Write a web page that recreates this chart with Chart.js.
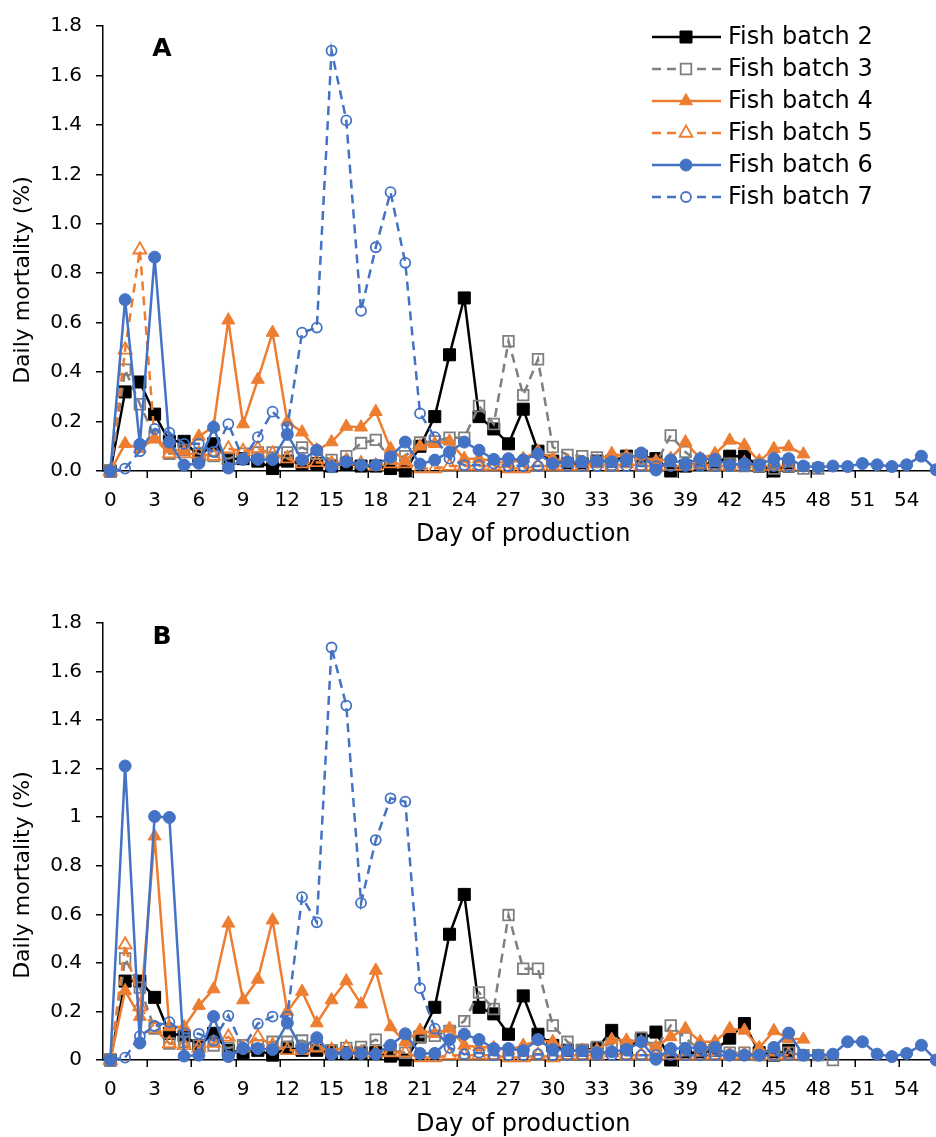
<!DOCTYPE html>
<html><head><meta charset="utf-8">
<script src="https://cdn.jsdelivr.net/npm/chart.js@4.4.1/dist/chart.umd.min.js"></script>
<style>
html,body{margin:0;padding:0;background:#fff;overflow:hidden;width:936px;height:1137px;position:relative;}
canvas{position:absolute;left:0;}
</style></head><body>
<canvas id="cA" width="953" height="560" style="top:0px"></canvas>
<canvas id="cB" width="953" height="560" style="top:597px"></canvas>
<script>
// ---------- DATA ----------
const seriesNames = ['Fish batch 2','Fish batch 3','Fish batch 4','Fish batch 5','Fish batch 6','Fish batch 7'];
const xTickValues = [0,3,6,9,12,15,18,21,24,27,30,33,36,39,42,45,48,51,54];
const yTickValues = [0,0.2,0.4,0.6,0.8,1.0,1.2,1.4,1.6,1.8];
const yTickLabelsA = ['0.0','0.2','0.4','0.6','0.8','1.0','1.2','1.4','1.6','1.8'];
const yTickLabelsB = ['0','0.2','0.4','0.6','0.8','1','1.2','1.4','1.6','1.8'];

// Panel A (values by day of production, starting at day 0)
const A_batch2 = [0,0.32,0.36,0.23,0.12,0.12,0.06,0.11,0.05,0.05,0.04,0.01,0.04,0.03,0.03,0.02,0.03,0.02,0.02,0.01,0.00,0.10,0.22,0.47,0.70,0.22,0.17,0.11,0.25,0.08,0.04,0.03,0.03,0.04,0.04,0.06,0.06,0.05,0.00,0.02,0.03,0.03,0.06,0.06,0.02,0.00,0.02];
const A_batch3 = [0,0.41,0.27,0.14,0.07,0.085,0.07,0.06,0.05,0.07,0.075,0.075,0.075,0.095,0.07,0.045,0.06,0.113,0.126,0.05,0.06,0.115,0.12,0.135,0.135,0.263,0.19,0.525,0.307,0.452,0.097,0.065,0.06,0.055,0.04,0.05,0.05,0.03,0.144,0.077,0.03,0.03,0.03,0.02,0.02,0.01,0.02,0.01,0.01];
const A_batch4 = [0,0.11,0.09,0.13,0.09,0.08,0.14,0.18,0.61,0.19,0.37,0.56,0.20,0.157,0.085,0.117,0.18,0.177,0.24,0.09,0.04,0.10,0.11,0.12,0.05,0.05,0.04,0.03,0.05,0.08,0.05,0.04,0.03,0.04,0.07,0.06,0.06,0.04,0.05,0.117,0.05,0.07,0.124,0.104,0.04,0.09,0.097,0.068];
const A_batch5 = [0,0.49,0.895,0.13,0.07,0.07,0.07,0.06,0.09,0.08,0.09,0.07,0.05,0.03,0.035,0.03,0.04,0.03,0.02,0.03,0.03,0.01,0.01,0.02,0.02,0.02,0.02,0.01,0.01,0.02,0.02,0.02,0.02,0.03,0.02,0.03,0.02,0.02,0.02,0.02,0.03,0.02,0.02,0.03,0.02,0.02,0.02];
const A_batch6 = [0,0.693,0.108,0.865,0.117,0.024,0.031,0.177,0.012,0.047,0.047,0.046,0.148,0.045,0.084,0.017,0.037,0.024,0.024,0.057,0.117,0.028,0.044,0.077,0.117,0.084,0.047,0.05,0.045,0.07,0.03,0.037,0.037,0.04,0.037,0.047,0.073,0.004,0.045,0.03,0.05,0.047,0.025,0.03,0.025,0.05,0.05,0.02,0.015,0.02,0.018,0.03,0.025,0.018,0.025,0.06,0.005];
const A_batch7 = [0,0.01,0.08,0.17,0.155,0.11,0.11,0.077,0.19,0.05,0.137,0.24,0.177,0.56,0.58,1.70,1.418,0.648,0.905,1.128,0.842,0.233,0.137,0.05,0.024,0.024,0.03,0.02,0.02,0.02,0.03,0.02,0.02,0.02,0.02,0.02,0.02,0.02,0.02,0.02,0.02,0.02,0.02,0.02,0.02,0.02,0.02];

// Panel B
const B_batch2 = [0,0.325,0.325,0.258,0.11,0.10,0.06,0.11,0.04,0.03,0.04,0.02,0.05,0.04,0.04,0.03,0.03,0.03,0.03,0.016,0.0,0.095,0.217,0.518,0.682,0.217,0.19,0.106,0.264,0.106,0.06,0.04,0.04,0.047,0.122,0.05,0.084,0.115,0.0,0.03,0.03,0.04,0.09,0.15,0.03,0.02,0.04];
const B_batch3 = [0,0.418,0.298,0.13,0.068,0.075,0.06,0.06,0.05,0.061,0.06,0.075,0.075,0.08,0.06,0.04,0.05,0.054,0.084,0.04,0.03,0.095,0.10,0.12,0.16,0.278,0.21,0.597,0.376,0.376,0.142,0.075,0.04,0.054,0.068,0.06,0.092,0.05,0.142,0.09,0.04,0.04,0.03,0.03,0.02,0.02,0.03,0.02,0.02,0.0];
const B_batch4 = [0,0.285,0.179,0.922,0.136,0.136,0.224,0.292,0.563,0.247,0.332,0.576,0.20,0.282,0.152,0.247,0.325,0.23,0.369,0.136,0.075,0.122,0.108,0.13,0.06,0.054,0.05,0.04,0.06,0.08,0.075,0.04,0.04,0.04,0.084,0.081,0.075,0.054,0.095,0.129,0.075,0.075,0.129,0.122,0.05,0.12,0.088,0.085];
const B_batch5 = [0,0.475,0.22,0.13,0.068,0.06,0.05,0.07,0.095,0.05,0.095,0.06,0.04,0.04,0.05,0.04,0.05,0.03,0.03,0.03,0.03,0.01,0.01,0.02,0.02,0.02,0.02,0.01,0.01,0.02,0.01,0.02,0.02,0.02,0.03,0.02,0.02,0.02,0.02,0.02,0.02,0.02,0.02,0.02,0.02,0.02,0.02];
const B_batch6 = [0,1.211,0.07,1.003,0.999,0.016,0.02,0.179,0.014,0.047,0.047,0.043,0.152,0.047,0.092,0.024,0.027,0.027,0.024,0.061,0.108,0.027,0.027,0.084,0.106,0.084,0.047,0.047,0.038,0.084,0.043,0.04,0.038,0.03,0.034,0.043,0.075,0.003,0.047,0.048,0.052,0.052,0.02,0.02,0.02,0.052,0.111,0.02,0.02,0.024,0.075,0.075,0.024,0.014,0.027,0.061,0.0];
const B_batch7 = [0,0.01,0.098,0.14,0.156,0.11,0.108,0.08,0.183,0.05,0.15,0.179,0.179,0.671,0.567,1.699,1.46,0.647,0.906,1.078,1.064,0.296,0.129,0.05,0.024,0.03,0.02,0.02,0.02,0.024,0.02,0.02,0.02,0.02,0.02,0.02,0.02,0.02,0.02,0.02,0.02,0.02,0.02,0.02,0.02,0.02,0.02];

// ---------- STYLES ----------
const BLACK='#000000', GRAY='#7F7F7F', ORANGE='#ED7D31', BLUE='#4472C4';
const styles = [
  {color:BLACK,  dash:[],    shape:'rect',     r:8.5, open:false, pbw:1},
  {color:GRAY,   dash:[9,6], shape:'rect',     r:7.5, open:true,  pbw:1.8},
  {color:ORANGE, dash:[],    shape:'triangle', r:7.5, open:false, pbw:1},
  {color:ORANGE, dash:[9,6], shape:'triangle', r:7.5, open:true,  pbw:1.8},
  {color:BLUE,   dash:[],    shape:'circle',   r:6,   open:false, pbw:1},
  {color:BLUE,   dash:[9,6], shape:'circle',   r:5,   open:true,  pbw:1.8}
];
const FONT = "'DejaVu Sans', Verdana, sans-serif";
Chart.defaults.font.family = FONT;
Chart.defaults.color = '#000';

function drawMarker(ctx, s, x, y, fillOpen) {
  ctx.save();
  ctx.setLineDash([]);
  ctx.lineWidth = s.pbw;
  ctx.strokeStyle = s.color;
  ctx.fillStyle = s.open ? fillOpen : s.color;
  ctx.beginPath();
  if (s.shape === 'rect') {
    const h = s.r * Math.SQRT1_2;
    ctx.rect(x - h, y - h, 2*h, 2*h);
  } else if (s.shape === 'triangle') {
    for (let k = 0; k < 3; k++) {
      const a = k * 2 * Math.PI / 3;
      const px = x + Math.sin(a) * s.r, py = y - Math.cos(a) * s.r;
      if (k === 0) ctx.moveTo(px, py); else ctx.lineTo(px, py);
    }
    ctx.closePath();
  } else {
    ctx.arc(x, y, s.r, 0, Math.PI * 2);
  }
  ctx.fill();
  ctx.stroke();
  ctx.restore();
}

const annot = {
  id: 'annot',
  afterDraw(chart, args, o) {
    const ctx = chart.ctx;
    const xs = chart.scales.x, area = chart.chartArea;
    // x tick marks (between category labels)
    ctx.save();
    ctx.strokeStyle = '#000'; ctx.lineWidth = 1.5;
    for (let v = 2.5; v < 56.6; v += 3) {
      const px = Math.round(xs.getPixelForValue(v)) + 0.25;
      ctx.beginPath(); ctx.moveTo(px, area.bottom); ctx.lineTo(px, area.bottom + 7); ctx.stroke();
    }
    // panel letter
    ctx.fillStyle = '#000'; ctx.textAlign = 'center'; ctx.textBaseline = 'middle';
    ctx.font = "bold 25px " + FONT;
    ctx.fillText(o.letter, o.letterX, o.letterY);
    // y title
    ctx.translate(o.yTitleX, o.yTitleY); ctx.rotate(-Math.PI/2);
    ctx.font = "22px " + FONT;
    ctx.fillText('Daily mortality (%)', 0, 0);
    ctx.restore();
    // legend
    if (o.legend) {
      ctx.save();
      ctx.font = "24px " + FONT;
      ctx.textAlign = 'left'; ctx.textBaseline = 'middle'; ctx.fillStyle = '#000';
      seriesNames.forEach((name, i) => {
        const s = styles[i], y = o.legendY + i * 32;
        ctx.save();
        ctx.strokeStyle = s.color; ctx.lineWidth = 2.5; ctx.setLineDash(s.dash);
        ctx.beginPath(); ctx.moveTo(652, y); ctx.lineTo(721, y); ctx.stroke();
        ctx.restore();
        drawMarker(ctx, s, 686, y, '#fff');
        ctx.fillText(name, 728, y + 1);
      });
      ctx.restore();
    }
  }
};

function toXY(arr) { return arr.map((v, i) => ({x: i, y: v})); }

function makeChart(id, dataArrays, yLabels, cfg) {
  const datasets = dataArrays.map((arr, i) => {
    const s = styles[i];
    return {
      label: seriesNames[i],
      data: toXY(arr),
      order: 6 - i,
      clip: false,
      borderColor: s.color,
      borderWidth: 2.5,
      borderDash: s.dash,
      tension: 0,
      pointStyle: s.shape,
      pointRadius: s.r,
      pointHoverRadius: s.r,
      pointBorderWidth: s.pbw,
      pointBorderColor: s.color,
      pointBackgroundColor: s.open ? 'rgba(255,255,255,0)' : s.color,
      fill: false
    };
  });
  return new Chart(document.getElementById(id), {
    type: 'line',
    data: {datasets},
    options: {
      responsive: false, animation: false, devicePixelRatio: 1,
      events: [],
      layout: {padding: {top: 20, left: 0, right: 0, bottom: 0}},
      plugins: {legend: {display: false}, tooltip: {enabled: false}, annot: cfg.annot},
      scales: {
        x: {
          type: 'linear', min: -0.5, max: 56.5,
          afterBuildTicks: (sc) => { sc.ticks = xTickValues.map(v => ({value: v})); },
          afterFit: (sc) => { sc.height = cfg.xH; sc.paddingLeft = 0; sc.paddingRight = 0; },
          ticks: {autoSkip: false, maxRotation: 0, padding: 0, color: '#000', font: {size: 20, family: FONT},
                  callback: (v) => String(v)},
          grid: {display: true, drawOnChartArea: false, drawTicks: true, tickLength: 18, color: 'rgba(0,0,0,0)'},
          border: {display: true, color: '#000', width: 1.5},
          title: {display: true, text: 'Day of production', color: '#000', font: {size: 24, family: FONT, lineHeight: 1.2},
                  padding: {top: 0, bottom: cfg.titlePad}}
        },
        y: {
          min: 0, max: 1.8,
          afterBuildTicks: (sc) => { sc.ticks = yTickValues.map(v => ({value: v})); },
          afterFit: (sc) => { sc.width = 103; },
          ticks: {padding: 14, color: '#000', font: {size: 20, family: FONT},
                  callback: (v, idx) => yLabels[idx]},
          grid: {display: true, drawOnChartArea: false, drawTicks: true, tickLength: 7, color: '#000', lineWidth: 1.5},
          border: {display: true, color: '#000', width: 1.5}
        }
      }
    },
    plugins: [annot]
  });
}

makeChart('cA', [A_batch2, A_batch3, A_batch4, A_batch5, A_batch6, A_batch7], yTickLabelsA,
  {xH: 89, titlePad: 11, annot: {letter: 'A', letterX: 162, letterY: 49, yTitleX: 23, yTitleY: 280, legend: true, legendY: 37}});
makeChart('cB', [B_batch2, B_batch3, B_batch4, B_batch5, B_batch6, B_batch7], yTickLabelsB,
  {xH: 97, titlePad: 18, annot: {letter: 'B', letterX: 162, letterY: 40, yTitleX: 23, yTitleY: 278, legend: false}});
</script>
</body></html>
